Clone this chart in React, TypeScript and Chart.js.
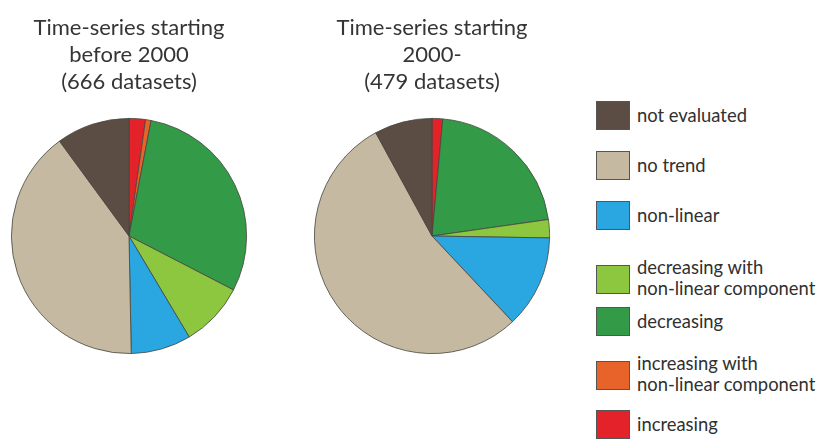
import React, { useEffect, useRef } from "react";
import { Chart, registerables } from "chart.js";

Chart.register(...registerables);

// Categories, in clockwise order starting at 12 o'clock
const categories = [
  "increasing",
  "increasing with non-linear component",
  "decreasing",
  "decreasing with non-linear component",
  "non-linear",
  "no trend",
  "not evaluated",
];

const colors = ["#e4222a", "#e8632a", "#339a47", "#8dc63f", "#2aa6e0", "#c5b9a1", "#5b4d43"];

// dataset counts
const before2000 = [15, 5, 197, 59, 55, 268, 67];
const after2000 = [7, 0, 102, 12, 61, 259, 38];

const titleBefore = ["Time-series starting", "before 2000", "(666 datasets)"];
const titleAfter = ["Time-series starting", "2000-", "(479 datasets)"];

// legend (top to bottom)
const legendItems = [
  { label: ["not evaluated"], color: "#5b4d43", top: 101 },
  { label: ["no trend"], color: "#c5b9a1", top: 151 },
  { label: ["non-linear"], color: "#2aa6e0", top: 201 },
  { label: ["decreasing with", "non-linear component"], color: "#8dc63f", top: 265 },
  { label: ["decreasing"], color: "#339a47", top: 307 },
  { label: ["increasing with", "non-linear component"], color: "#e8632a", top: 361 },
  { label: ["increasing"], color: "#e4222a", top: 410 },
];

const FONT = "Lato, 'Open Sans', sans-serif";

function PieChart({ data, title, left }: { data: number[]; title: string[]; left: number }) {
  const ref = useRef<HTMLCanvasElement>(null);
  useEffect(() => {
    if (!ref.current) return;
    const chart = new Chart(ref.current, {
      type: "pie",
      data: {
        labels: categories,
        datasets: [
          {
            data,
            backgroundColor: colors,
            borderColor: "#45453f",
            borderWidth: 0.8,
          },
        ],
      },
      options: {
        animation: false,
        responsive: false,
        maintainAspectRatio: false,
        layout: { padding: { bottom: 6 } },
        plugins: {
          legend: { display: false },
          tooltip: { enabled: false },
          title: {
            display: true,
            text: title,
            color: "#353535",
            font: { family: FONT, size: 22, weight: "normal", lineHeight: 27 / 22 },
            padding: { top: 14, bottom: 23 },
          },
        },
      },
    });
    return () => chart.destroy();
  }, [data, title]);
  return (
    <canvas
      ref={ref}
      width={258}
      height={360}
      style={{ position: "absolute", left, top: 0, width: 258, height: 360 }}
    />
  );
}

export default function App() {
  return (
    <div
      style={{
        position: "fixed",
        left: 0,
        top: 0,
        width: 819,
        height: 440,
        background: "#ffffff",
        overflow: "hidden",
      }}
    >
      <PieChart data={before2000} title={titleBefore} left={0} />
      <PieChart data={after2000} title={titleAfter} left={303} />
      {legendItems.map((it, i) => (
        <div key={i}>
          <div
            style={{
              position: "absolute",
              left: 596,
              top: it.top,
              width: 32,
              height: 27,
              background: it.color,
              border: "1px solid #555",
            }}
          />
          <div
            style={{
              position: "absolute",
              left: 637,
              top: it.label.length > 1 ? it.top - 8 : it.top + 4,
              fontFamily: FONT,
              fontSize: 18.4,
              lineHeight: "21px",
              color: "#303030",
              whiteSpace: "nowrap",
            }}
          >
            {it.label.map((l, j) => (
              <div key={j}>{l}</div>
            ))}
          </div>
        </div>
      ))}
    </div>
  );
}
